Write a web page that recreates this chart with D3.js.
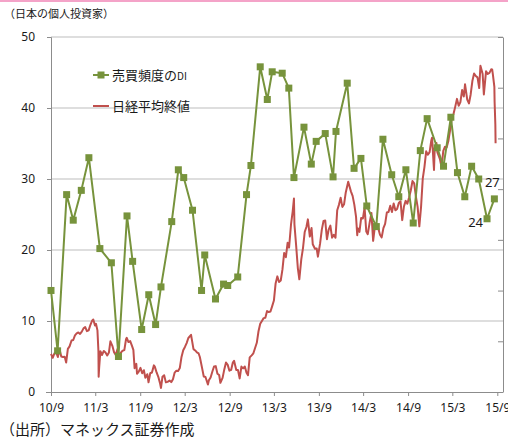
<!DOCTYPE html>
<html>
<head>
<meta charset="utf-8">
<script src="https://cdn.jsdelivr.net/npm/d3@7"></script>
<style>
  html, body { margin: 0; padding: 0; background: #fff; }
  svg { display: block; font-family: "Noto Sans CJK JP", "Noto Sans", sans-serif; }
</style>
</head>
<body>
<svg id="chart" width="508" height="441"></svg>
<script>
// 売買頻度のDI (survey dates and values)
const diDates = [
  "2010-09-01","2010-09-28","2010-11-04","2010-12-01","2011-01-03","2011-02-03","2011-03-20","2011-05-06",
  "2011-06-04","2011-07-09","2011-08-01","2011-09-07","2011-10-06","2011-11-03","2011-11-25","2012-01-08",
  "2012-02-04","2012-02-26","2012-04-02","2012-05-09","2012-05-22","2012-07-05","2012-08-07","2012-08-24",
  "2012-10-04","2012-11-09","2012-11-27","2013-01-04","2013-02-02","2013-02-22","2013-04-04","2013-05-01",
  "2013-05-22","2013-07-02","2013-08-01","2013-08-21","2013-09-27","2013-10-29","2013-11-10","2013-12-26",
  "2014-01-23","2014-02-20","2014-03-16","2014-04-24","2014-05-21","2014-06-26","2014-07-25","2014-08-23",
  "2014-09-22","2014-10-21","2014-11-18","2014-12-29","2015-01-24","2015-02-23","2015-03-22","2015-04-21",
  "2015-05-19","2015-06-17","2015-07-21","2015-08-20"
];
const diValues = [
  14.3, 5.8, 27.8, 24.2, 28.4, 33.0, 20.2, 18.2,
  5.0, 24.8, 18.4, 8.8, 13.7, 9.5, 14.8, 24.0,
  31.3, 30.2, 25.6, 14.3, 19.3, 13.1, 15.2, 15.0,
  16.2, 27.8, 31.9, 45.8, 41.2, 45.1, 44.9, 42.8,
  30.2, 37.3, 32.1, 35.3, 36.4, 30.3, 36.7, 43.5,
  31.5, 32.9, 26.2, 23.3, 35.6, 30.6, 27.5, 31.3,
  23.8, 34.0, 38.5, 34.4, 31.8, 38.7, 30.9, 27.5,
  31.8, 30.0, 24.4, 27.2
];

// 日経平均終値 (yen)
const nikkeiDates = [
  "2010-09-01","2010-09-08","2010-09-15","2010-09-22","2010-09-29","2010-10-06","2010-10-13","2010-10-20",
  "2010-10-27","2010-11-02","2010-11-09","2010-11-16","2010-11-24","2010-12-01","2010-12-08","2010-12-15",
  "2010-12-22","2010-12-29","2011-01-05","2011-01-12","2011-01-19","2011-01-26","2011-02-02","2011-02-09",
  "2011-02-16","2011-02-21","2011-02-28","2011-03-04","2011-03-10","2011-03-14","2011-03-15","2011-03-17",
  "2011-03-22","2011-03-29","2011-04-05","2011-04-12","2011-04-19","2011-04-26","2011-05-02","2011-05-10",
  "2011-05-17","2011-05-24","2011-05-31","2011-06-07","2011-06-14","2011-06-21","2011-06-28","2011-07-05",
  "2011-07-08","2011-07-15","2011-07-22","2011-07-29","2011-08-04","2011-08-09","2011-08-16","2011-08-19",
  "2011-08-26","2011-09-02","2011-09-09","2011-09-16","2011-09-22","2011-09-30","2011-10-05","2011-10-12",
  "2011-10-19","2011-10-27","2011-10-31","2011-11-07","2011-11-14","2011-11-21","2011-11-25","2011-12-01",
  "2011-12-08","2011-12-15","2011-12-22","2011-12-30","2012-01-06","2012-01-13","2012-01-20","2012-01-27",
  "2012-02-03","2012-02-10","2012-02-17","2012-02-24","2012-03-02","2012-03-09","2012-03-16","2012-03-27",
  "2012-03-30","2012-04-06","2012-04-13","2012-04-20","2012-04-27","2012-05-02","2012-05-11","2012-05-18",
  "2012-05-25","2012-06-04","2012-06-08","2012-06-15","2012-06-22","2012-06-29","2012-07-06","2012-07-13",
  "2012-07-20","2012-07-25","2012-08-03","2012-08-10","2012-08-17","2012-08-24","2012-08-31","2012-09-07",
  "2012-09-14","2012-09-19","2012-09-28","2012-10-05","2012-10-12","2012-10-19","2012-10-26","2012-11-02",
  "2012-11-09","2012-11-15","2012-11-22","2012-11-30","2012-12-07","2012-12-14","2012-12-21","2012-12-28",
  "2013-01-04","2013-01-11","2013-01-18","2013-01-25","2013-02-01","2013-02-08","2013-02-15","2013-02-22",
  "2013-03-01","2013-03-08","2013-03-15","2013-03-22","2013-03-29","2013-04-05","2013-04-12","2013-04-19",
  "2013-04-26","2013-05-02","2013-05-10","2013-05-17","2013-05-22","2013-05-24","2013-05-31","2013-06-07",
  "2013-06-13","2013-06-21","2013-06-28","2013-07-05","2013-07-12","2013-07-18","2013-07-26","2013-08-02",
  "2013-08-07","2013-08-16","2013-08-23","2013-08-28","2013-09-06","2013-09-13","2013-09-20","2013-09-27",
  "2013-10-04","2013-10-11","2013-10-18","2013-10-25","2013-11-01","2013-11-08","2013-11-15","2013-11-22",
  "2013-11-29","2013-12-06","2013-12-13","2013-12-20","2013-12-30","2014-01-10","2014-01-17","2014-01-24",
  "2014-01-31","2014-02-05","2014-02-07","2014-02-14","2014-02-21","2014-02-28","2014-03-07","2014-03-14",
  "2014-03-20","2014-03-28","2014-04-04","2014-04-11","2014-04-18","2014-04-25","2014-05-02","2014-05-09",
  "2014-05-16","2014-05-23","2014-05-30","2014-06-06","2014-06-13","2014-06-20","2014-06-27","2014-07-04",
  "2014-07-11","2014-07-18","2014-07-25","2014-08-01","2014-08-08","2014-08-15","2014-08-22","2014-08-29",
  "2014-09-05","2014-09-12","2014-09-19","2014-09-26","2014-10-03","2014-10-10","2014-10-17","2014-10-24",
  "2014-10-31","2014-11-07","2014-11-14","2014-11-21","2014-11-28","2014-12-05","2014-12-08","2014-12-16",
  "2014-12-19","2014-12-26","2014-12-30","2015-01-09","2015-01-16","2015-01-23","2015-01-30","2015-02-06",
  "2015-02-13","2015-02-20","2015-02-27","2015-03-06","2015-03-13","2015-03-20","2015-03-27","2015-04-03",
  "2015-04-10","2015-04-17","2015-04-22","2015-05-01","2015-05-08","2015-05-15","2015-05-22","2015-05-29",
  "2015-06-05","2015-06-12","2015-06-19","2015-06-24","2015-07-03","2015-07-08","2015-07-17","2015-07-24",
  "2015-07-31","2015-08-07","2015-08-11","2015-08-14","2015-08-20","2015-08-21","2015-08-24","2015-08-25"
];
const nikkeiValues = [
  9500, 9350, 9520, 9560, 9380, 9690, 9400, 9380,
  9390, 9160, 9700, 9800, 10030, 10050, 10230, 10310,
  10350, 10290, 10380, 10510, 10560, 10400, 10430, 10640,
  10810, 10857, 10620, 10690, 10430, 9620, 8605, 8960,
  9610, 9460, 9620, 9560, 9440, 9560, 10000, 9820,
  9570, 9460, 9690, 9440, 9550, 9630, 9650, 10080,
  10137, 9970, 10010, 9830, 9660, 8940, 9110, 8720,
  8800, 8950, 8740, 8860, 8560, 8700, 8380, 8740,
  8770, 9050, 8990, 8770, 8600, 8350, 8160, 8600,
  8660, 8380, 8400, 8455, 8390, 8500, 8766, 8840,
  8831, 8947, 9384, 9647, 9777, 9930, 10130, 10255,
  10083, 9690, 9638, 9561, 9520, 9380, 8953, 8611,
  8593, 8296, 8460, 8570, 8800, 9006, 9020, 8720,
  8670, 8365, 8555, 8891, 9163, 9070, 8840, 8871,
  9160, 9232, 8870, 8864, 8534, 9002, 8933, 9007,
  8757, 8665, 9366, 9446, 9527, 9737, 9940, 10395,
  10688, 10801, 10913, 10926, 11191, 11153, 11173, 11385,
  11606, 12283, 12560, 12338, 12397, 12833, 13485, 13316,
  13884, 13694, 14607, 15138, 15627, 14612, 13774, 12877,
  12445, 13230, 13677, 14309, 14506, 14808, 14129, 14466,
  13824, 13650, 13660, 13338, 13860, 14404, 14742, 14760,
  14024, 14404, 14561, 14088, 14201, 14086, 15165, 15381,
  15661, 15299, 15403, 15870, 16291, 15912, 15734, 15391,
  14914, 14180, 14462, 14313, 14865, 14841, 15274, 14327,
  14224, 14696, 15063, 13960, 14516, 14429, 14457, 14199,
  14097, 14462, 14632, 15077, 15097, 15349, 15095, 15437,
  15164, 15215, 15457, 15523, 14778, 15318, 15539, 15425,
  15669, 15948, 16321, 16229, 15708, 15300, 14532, 15291,
  16414, 16880, 17490, 17357, 17459, 17920, 18030, 16756,
  17621, 17818, 17451, 17197, 16864, 17511, 17674, 17648,
  17913, 18332, 18798, 18971, 19254, 19560, 19286, 19435,
  19908, 19653, 20133, 19531, 19379, 19733, 20264, 20563,
  20460, 20407, 19990, 20868, 20539, 19737, 20650, 20544,
  20585, 20724, 20720, 20519, 20033, 19436, 18540, 17806
];

const xTickDates = ["2010-09-01","2011-03-01","2011-09-01","2012-03-01","2012-09-01","2013-03-01",
                    "2013-09-01","2014-03-01","2014-09-01","2015-03-01","2015-09-01"];
const leftTicks = [0, 10, 20, 30, 40, 50];
const rightTicks = [8000, 10000, 12000, 14000, 16000, 18000, 20000, 22000];

const parse = d3.timeParse("%Y-%m-%d");
const di = diDates.map((d, i) => ({ date: parse(d), value: diValues[i] }));
const nk = nikkeiDates.map((d, i) => ({ date: parse(d), value: nikkeiValues[i] }));

const svg = d3.select("#chart");
const plot = { left: 51, right: 503, top: 37, bottom: 392 };

const x = d3.scaleTime()
  .domain([parse("2010-09-01"), parse("2015-09-01")])
  .range([51, 497.3]);
const y = d3.scaleLinear().domain([0, 50]).range([plot.bottom, plot.top]);
const y2 = d3.scaleLinear().domain([8000, 22000]).range([plot.bottom, plot.top]);

const green = "#77933c";
const red = "#c0504d";
const axisGrey = "#8c8c8c";
const textCol = "#1a1a1a";

// pink rule along the top edge
svg.append("rect").attr("x", 0).attr("y", 0).attr("width", 508).attr("height", 2)
  .attr("fill", "#f4a3c8");

// title
svg.append("text").attr("x", 4).attr("y", 18)
  .attr("font-size", 11).attr("fill", textCol).text("（日本の個人投資家）");

// horizontal gridlines
svg.append("g").selectAll("line").data(leftTicks.filter(t => t > 0)).join("line")
  .attr("x1", plot.left).attr("x2", plot.right)
  .attr("y1", d => y(d)).attr("y2", d => y(d))
  .attr("stroke", "#bdbdbd").attr("stroke-width", 1);

// left axis
const gLeft = svg.append("g").attr("transform", `translate(${plot.left},0)`)
  .call(d3.axisLeft(y).tickValues(leftTicks).tickSize(4).tickPadding(12).tickFormat(d3.format("d")));
gLeft.select(".domain").attr("stroke", axisGrey);
gLeft.selectAll(".tick line").attr("stroke", axisGrey);
gLeft.selectAll("text").attr("font-size", 12).attr("fill", textCol)
  .attr("font-family", "'Noto Sans', sans-serif");

// right axis (ticks only, pointing inward)
const gRight = svg.append("g").attr("transform", `translate(${plot.right},0)`)
  .call(d3.axisRight(y2).tickValues(rightTicks).tickSizeInner(-5).tickSizeOuter(0));
gRight.select(".domain").attr("stroke", axisGrey);
gRight.selectAll(".tick line").attr("stroke", axisGrey);
gRight.selectAll("text").remove();

// bottom axis
const gBottom = svg.append("g").attr("transform", `translate(0,${plot.bottom})`)
  .call(d3.axisBottom(x).tickValues(xTickDates.map(parse)).tickSize(4).tickPadding(7)
    .tickFormat(d3.timeFormat("%y/%-m")));
gBottom.select(".domain").attr("d", `M${plot.left - 5},0.5H${plot.right}`).attr("stroke", axisGrey);
gBottom.selectAll(".tick line").attr("stroke", axisGrey);
gBottom.selectAll("text").attr("font-size", 12).attr("fill", textCol)
  .attr("font-family", "'Noto Sans', sans-serif");

// Nikkei close line
svg.append("path").datum(nk)
  .attr("fill", "none").attr("stroke", red).attr("stroke-width", 2).attr("stroke-linejoin", "round")
  .attr("d", d3.line().x(d => x(d.date)).y(d => y2(d.value)));

// DI line and markers
svg.append("path").datum(di)
  .attr("fill", "none").attr("stroke", green).attr("stroke-width", 2).attr("stroke-linejoin", "round")
  .attr("d", d3.line().x(d => x(d.date)).y(d => y(d.value)));
svg.append("g").selectAll("rect").data(di).join("rect")
  .attr("x", d => x(d.date) - 3.5).attr("y", d => y(d.value) - 3.5)
  .attr("width", 7).attr("height", 7).attr("fill", green);

// value labels on the last two DI points
const fmt0 = d3.format(".0f");
const nLast = di.length;
svg.append("text").attr("x", x(di[nLast - 1].date) - 2).attr("y", y(di[nLast - 1].value) - 12)
  .attr("text-anchor", "middle").attr("font-size", 13).attr("fill", textCol)
  .attr("font-family", "'Noto Sans', sans-serif").text(fmt0(di[nLast - 1].value));
svg.append("text").attr("x", x(di[nLast - 2].date) - 4).attr("y", y(di[nLast - 2].value) + 8)
  .attr("text-anchor", "end").attr("font-size", 13).attr("fill", textCol)
  .attr("font-family", "'Noto Sans', sans-serif").text(fmt0(di[nLast - 2].value));

// legend
const lg = svg.append("g");
lg.append("line").attr("x1", 93).attr("x2", 109).attr("y1", 75).attr("y2", 75)
  .attr("stroke", green).attr("stroke-width", 2);
lg.append("rect").attr("x", 97.5).attr("y", 71.5).attr("width", 7).attr("height", 7).attr("fill", green);
const t1 = lg.append("text").attr("x", 112).attr("y", 80).attr("font-size", 13).attr("fill", textCol);
t1.append("tspan").text("売買頻度の");
t1.append("tspan").attr("font-size", 10).text("DI");
lg.append("line").attr("x1", 93).attr("x2", 109).attr("y1", 106).attr("y2", 106)
  .attr("stroke", red).attr("stroke-width", 2);
lg.append("text").attr("x", 112).attr("y", 111).attr("font-size", 13).attr("fill", textCol)
  .text("日経平均終値");

// source note
svg.append("text").attr("x", 0).attr("y", 435).attr("font-size", 15).attr("fill", textCol)
  .text("（出所）マネックス証券作成");
</script>
</body>
</html>
